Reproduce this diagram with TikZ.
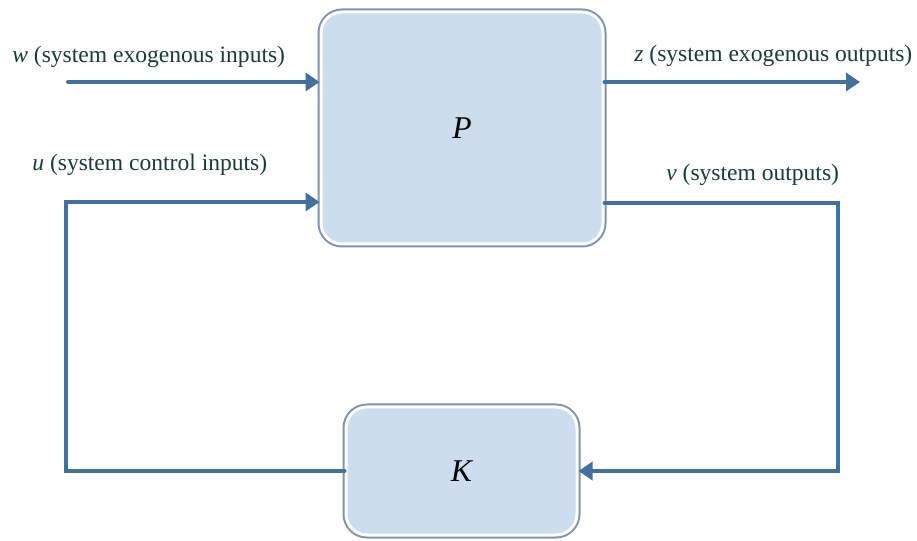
\documentclass[tikz,border=0pt]{standalone}
\usepackage{fontspec}
\setmainfont{Liberation Serif}
\usetikzlibrary{arrows.meta}

\definecolor{sigblue}{HTML}{44709F}
\definecolor{boxfill}{HTML}{CCDDEE}
\definecolor{boxframe}{HTML}{7F93AA}
\definecolor{labeltext}{HTML}{1B3B3B}

\tikzset{
	block/.style={rounded corners=0.42cm, fill=boxfill, draw=white, line width=0.06cm,
		preaction={draw=boxframe, line width=0.14cm}, inner sep=0pt,
		font=\fontsize{18}{20}\selectfont\itshape},
	sig/.style={draw=sigblue, line width=0.08cm, line cap=round,
		-{Triangle[length=0.28cm,width=0.36cm]}},
	sigline/.style={draw=sigblue, line width=0.08cm, line cap=round},
	caption/.style={anchor=base west, inner sep=0pt, text=labeltext,
		font=\fontsize{13.4}{15}\selectfont},
}

\begin{document}
\begin{tikzpicture}
			\useasboundingbox (0,0) rectangle (18.34,10.8);
			
			% Блоки объекта и регулятора
			\node[block, minimum width=5.64cm, minimum height=4.64cm] (P) at (9.24,8.24) {P};
			\node[block, minimum width=4.62cm, minimum height=2.56cm] (K) at (9.23,1.38) {K};
			
			% Точки входов, выходов и изломов
			\coordinate (win) at (1.36,9.16);
			\coordinate (zout) at (17.2,9.16);
			\coordinate (ubend) at (1.32,6.76);
			\coordinate (vbend) at (16.76,6.74);
			
			% Сигналы
			\draw[sig] (win) -- (win -| P.west);
			\draw[sig] (zout -| P.east) -- (zout);
			\draw[sig] (K.west) -| (ubend) -- (ubend -| P.west);
			\draw[sig] (vbend -| P.east) -- (vbend) |- (K.east);
			
			% Подписи сигналов
			\node[caption] (wlab) at (0.24,9.54) {\textit{w} (system exogenous inputs)};
			\node[caption] (ulab) at (0.64,7.38) {\textit{u} (system control inputs)};
			\node[caption] (zlab) at (12.68,9.56) {\textit{z} (system exogenous outputs)};
			\node[caption] (vlab) at (13.32,7.18) {\textit{v} (system outputs)};
		\end{tikzpicture}
\end{document}
